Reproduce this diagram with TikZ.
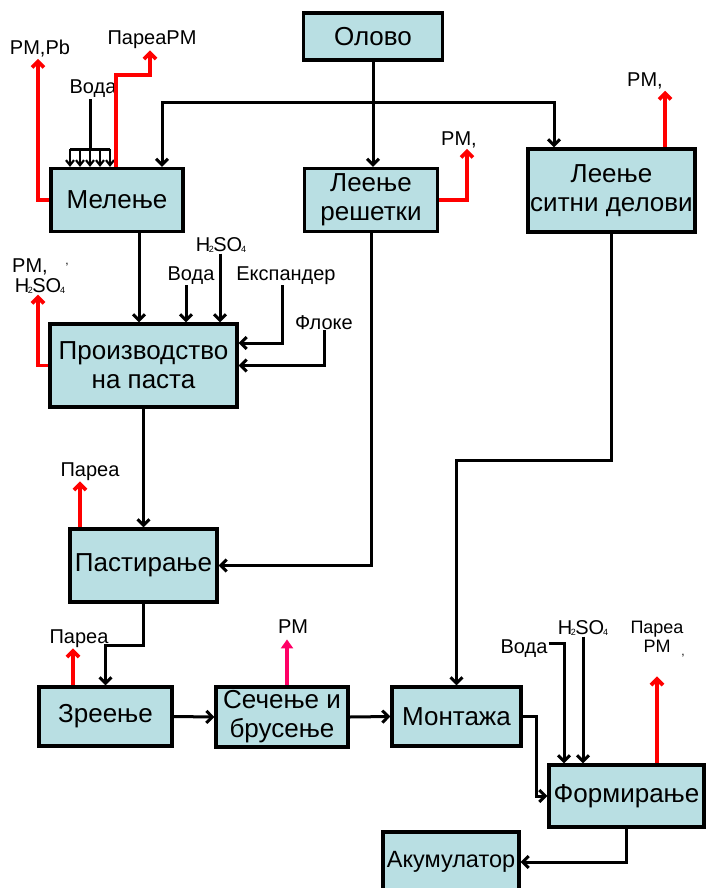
\documentclass[tikz,border=0pt]{standalone}
\usepackage{fontspec}
\setmainfont{Liberation Sans}
\usetikzlibrary{arrows.meta,calc}
\definecolor{boxfill}{HTML}{B9DFE3}
\definecolor{pmcol}{HTML}{FF0066}
\newcommand{\hso}{H\kern-1.5pt\raisebox{-1.5pt}{\fontsize{9}{9}\selectfont 2}\kern-0.5pt SO\kern-1pt\raisebox{-1.5pt}{\fontsize{9}{9}\selectfont 4}}
\begin{document}
\begin{tikzpicture}[x=1pt,y=-1pt,
 box/.style={draw, line width=3.2pt, fill=boxfill, inner sep=0pt, align=center, font=\fontsize{26}{29}\selectfont},
 lbl/.style={inner sep=1pt, font=\fontsize{20}{21}\selectfont, anchor=base, align=center},
 arr/.style={line width=3pt, -{Straight Barb[length=6pt,width=12pt]}},
 sarr/.style={line width=2.2pt, -{Straight Barb[length=5pt,width=8pt]}},
 rarr/.style={line width=3.8pt, red, -{Straight Barb[length=6pt,width=12pt]}},
 plain/.style={line width=3pt}]
\useasboundingbox (0,0) rectangle (705,888);

% boxes
\node[box, minimum width=139pt, minimum height=47pt] (olovo) at (373,36.5) {Олово};
\node[box, minimum width=132pt, minimum height=63pt] (mel) at (117,200) {Мелење};
\node[box, minimum width=133pt, minimum height=63pt] (lr) at (371,200) {Леење\\решетки};
\node[box, minimum width=167pt, minimum height=83pt] (ls) at (611.5,190.5) {Леење\\ситни делови};
\node[box, minimum width=187pt, minimum height=83pt] (prod) at (143.5,365.5) {Производство\\на паста};
\node[box, minimum width=147pt, minimum height=73pt] (past) at (143.5,565.5) {Пастирање};
\node[box, minimum width=133pt, minimum height=59pt] (zr) at (105.5,716.5) {Зреење};
\node[box, minimum width=132pt, minimum height=60pt] (sec) at (282,717) {Сечење и\\брусење};
\node[box, minimum width=129pt, minimum height=59pt] (mont) at (456.5,716.5) {Монтажа};
\node[box, minimum width=155pt, minimum height=62pt] (form) at (626.5,796) {Формирање};
\node[box, minimum width=136pt, minimum height=60pt, font=\fontsize{23.5}{27}\selectfont] (akum) at (451,862) {Акумулатор};

% labels
\node[lbl] (voda1) at (93,94) {Вода};
\node[lbl] (pmpb) at (40,55) {PM,Pb};
\node[lbl] (pareapm) at (152,45) {ПареаPM};
\node[lbl] (pmlr) at (459,145) {PM,};
\node[lbl] (pmls) at (645,87) {PM,};
\node[lbl] (voda2) at (191,280) {Вода};
\node[lbl] (h2a) at (221,251) {\hso};
\node[lbl] (eksp) at (286,280) {Експандер};
\node[lbl] (floke) at (324,329) {Флоке};
\node[lbl] (pml) at (30,272) {PM,};
\node[lbl] (h2l) at (40,292) {\hso};
\node[lbl, font=\fontsize{12}{12}\selectfont] (c1) at (67,264) {,};
\node[lbl] (parp) at (90,476) {Пареа};
\node[lbl] (parz) at (79,643) {Пареа};
\node[lbl] (pmsec) at (293,633) {PM};
\node[lbl] (voda3) at (524,653) {Вода};
\node[lbl] (h2f) at (583,634) {\hso};
\node[lbl, font=\fontsize{18}{19}\selectfont] (parf) at (657,652) {Пареа\\PM};
\node[lbl, font=\fontsize{12}{12}\selectfont] (c2) at (683,655) {,};

% black connectors
\coordinate (j) at (373,103);
\draw[arr] (olovo.south) -- (lr.north -| olovo.south);
\draw[arr] (j) -| ([xshift=45pt]mel.north);
\draw[arr] (j) -| ([xshift=-57.5pt]ls.north);
\coordinate (vb) at (90,149);
\draw[plain] (voda1.south -| vb) -- (vb);
\draw[plain] (70,149) -- (110,149);
\foreach \x in {70,80,90,100,110} \draw[sarr] (\x,149) -- (mel.north -| \x,0);
\draw[arr] ([xshift=22pt]mel.south) -- ([xshift=-4.5pt]prod.north);
\draw[arr] (voda2.south -| 186,0) -- (prod.north -| 186,0);
\draw[arr] (h2a.south -| 220,0) -- (prod.north -| 220,0);
\draw[arr] (eksp.south -| 282,0) |- ([yshift=22.5pt]prod.east);
\draw[arr] (floke.south) |- (prod.east);
\draw[arr] (prod.south) -- (past.north);
\draw[arr] (lr.south) |- (past.east);
\draw[arr] (past.south) -- ++(0,42) -| (zr.north);
\draw[arr] (zr.east) -- (sec.west);
\draw[arr] (sec.east) -- (mont.west);
\draw[arr] (ls.south) -- ++(0,227) -| (mont.north);
\draw[arr] (mont.east) -- ++(14,0) |- (form.west);
\draw[arr] ([yshift=5pt]voda3.east) -| (form.north -| 564,0);
\draw[arr] (h2f.south -| 583,0) -- (form.north -| 583,0);
\draw[arr] (form.south) |- (akum.east);

% red connectors
\draw[rarr] (mel.west) -| ([xshift=-2pt]pmpb.south);
\draw[rarr] (mel.north -| 116,0) |- (150,75) -- (pareapm.south -| 150,0);
\draw[rarr] (lr.east) -| (pmlr.south -| 467,0);
\draw[rarr] (ls.north -| 665,0) -- (pmls.south -| 665,0);
\draw[rarr] (prod.west) -| ([xshift=-2pt]h2l.south);
\draw[rarr] (past.north -| 80,0) -- (parp.south -| 80,0);
\draw[rarr] (zr.north -| 73,0) -- (parz.south -| 73,0);
\draw[rarr] (form.north -| 657,0) -- ++(0,-87);
\draw[line width=3.8pt, pmcol, -{Triangle[length=9pt,width=12pt]}] (sec.north -| 287,0) -- ++(0,-46);
\end{tikzpicture}
\end{document}
